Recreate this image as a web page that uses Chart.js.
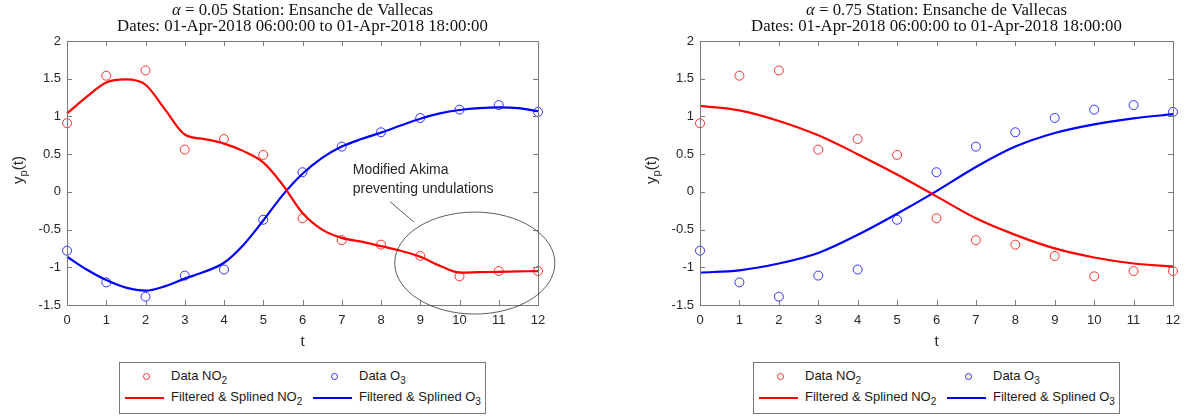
<!DOCTYPE html>
<html lang="en">
<head>
    <meta charset="UTF-8">
    <title>Filtered & splined NO2 / O3</title>
    <script src="https://cdn.jsdelivr.net/npm/chart.js@4.4.1/dist/chart.umd.min.js"></script>
    <style>
        body { margin: 0; background: #fff; width: 1191px; height: 417px; position: relative; overflow: hidden; }
        canvas { position: absolute; top: 0; }
        #leftCanvas { left: 0; }
        #rightCanvas { left: 600px; }
        .legend {
            position: absolute; top: 362px; width: 367px; height: 52px;
            box-sizing: border-box; border: 1px solid #7a7a7a; background: #fff;
            font-family: "Liberation Sans", Arial, sans-serif; font-size: 13px; color: #1a1a1a;
        }
        .legend .item { position: absolute; white-space: nowrap; line-height: 14px; }
        .legend sub { font-size: 10px; vertical-align: -4px; line-height: 0; }
        .legend .mk { position: absolute; width: 7px; height: 7px; border-radius: 50%; box-sizing: border-box; }
        .legend .ln { position: absolute; height: 2px; }
    </style>
</head>
<body>
    <canvas id="leftCanvas" width="600" height="360"></canvas>
    <canvas id="rightCanvas" width="591" height="360"></canvas>

    <div class="legend" style="left:119px"></div>
    <div class="legend" style="left:753px"></div>

    <script>
        // hours since 06:00
        const tData = [0, 1, 2, 3, 4, 5, 6, 7, 8, 9, 10, 11, 12];
        const no2Data = [0.91, 1.54, 1.61, 0.56, 0.70, 0.49, -0.35, -0.64, -0.70, -0.85, -1.12, -1.05, -1.05];
        const o3Data = [-0.78, -1.20, -1.39, -1.11, -1.03, -0.37, 0.26, 0.60, 0.79, 0.98, 1.09, 1.15, 1.06];

        // alpha = 0.05, read every half hour off the curve
        const tFine = [0, 0.5, 1, 1.5, 2, 2.5, 3, 3.5, 4, 4.5, 5, 5.5, 6, 6.5, 7, 7.5, 8, 8.5, 9, 9.5, 10, 10.5, 11, 11.5, 12];
        const no2FitA = [1.04, 1.26, 1.45, 1.49, 1.42, 1.09, 0.76, 0.70, 0.64, 0.54, 0.39, 0.09, -0.28, -0.50, -0.61, -0.66, -0.72, -0.78, -0.86, -0.98, -1.07, -1.065, -1.06, -1.055, -1.05];
        const o3FitA = [-0.86, -1.03, -1.17, -1.27, -1.31, -1.25, -1.15, -1.06, -0.94, -0.70, -0.38, -0.04, 0.24, 0.45, 0.60, 0.70, 0.785, 0.88, 0.97, 1.04, 1.085, 1.11, 1.12, 1.11, 1.07];

        // alpha = 0.75
        const no2FitB = [1.14, 1.08, 0.94, 0.75, 0.50, 0.23, -0.06, -0.35, -0.57, -0.75, -0.87, -0.95, -0.99];
        const o3FitB = [-1.07, -1.04, -0.95, -0.81, -0.57, -0.29, 0.01, 0.33, 0.60, 0.78, 0.895, 0.975, 1.03];

        const yTicks = [-1.5, -1, -0.5, 0, 0.5, 1, 1.5, 2];
        const alphas = ['0.05', '0.75'];
        const station = 'Station: Ensanche de Vallecas';
        const dates = 'Dates: 01-Apr-2018 06:00:00 to 01-Apr-2018 18:00:00';

        const RED = '#ff0000', BLUE = '#0000ff', AXIS = '#262626';
        const sans = '"Liberation Sans", Arial, sans-serif';
        const serif = '"Liberation Serif", "Times New Roman", serif';

        const pts = (xs, ys) => xs.map((x, i) => ({ x: x, y: ys[i] }));

        // box, inward ticks, titles and axis labels (matlab look)
        const axesDecor = {
            id: 'axesDecor',
            afterDraw(chart, args, opts) {
                const { ctx, chartArea: a, scales: { x, y } } = chart;
                ctx.save();
                ctx.strokeStyle = '#7a7a7a';
                ctx.lineWidth = 1;
                ctx.strokeRect(a.left + 0.5, a.top + 0.5, a.right - a.left, a.bottom - a.top);
                ctx.beginPath();
                x.ticks.forEach(t => {
                    const px = Math.round(x.getPixelForValue(t.value)) + 0.5;
                    ctx.moveTo(px, a.bottom); ctx.lineTo(px, a.bottom - 5);
                    ctx.moveTo(px, a.top); ctx.lineTo(px, a.top + 5);
                });
                y.ticks.forEach(t => {
                    const py = Math.round(y.getPixelForValue(t.value)) + 0.5;
                    ctx.moveTo(a.left, py); ctx.lineTo(a.left + 5, py);
                    ctx.moveTo(a.right, py); ctx.lineTo(a.right - 5, py);
                });
                ctx.stroke();

                const cx = (a.left + a.right) / 2;
                // title, line 1 with italic alpha
                ctx.fillStyle = '#111';
                ctx.textBaseline = 'middle';
                ctx.textAlign = 'left';
                const p1 = '\u03b1', p2 = ' = ' + opts.alpha + ' ' + station;
                ctx.font = 'italic 16.8px ' + serif;
                const w1 = ctx.measureText(p1).width;
                ctx.font = '16.8px ' + serif;
                const w2 = ctx.measureText(p2).width;
                let sx = cx - (w1 + w2) / 2;
                ctx.font = 'italic 16.8px ' + serif;
                ctx.fillText(p1, sx, 11);
                ctx.font = '16.8px ' + serif;
                ctx.fillText(p2, sx + w1, 11);
                ctx.textAlign = 'center';
                ctx.fillText(dates, cx, 27);

                // x label
                ctx.fillStyle = AXIS;
                ctx.font = '15px ' + sans;
                ctx.fillText('t', cx, 342);

                // y label y_p(t)
                ctx.save();
                ctx.translate(a.left - 48, (a.top + a.bottom) / 2 - 3);
                ctx.rotate(-Math.PI / 2);
                ctx.font = '15px ' + sans;
                const wy = ctx.measureText('y').width;
                const wt = ctx.measureText('(t)').width;
                ctx.font = '11px ' + sans;
                const wp = ctx.measureText('p').width;
                let lx = -(wy + wp + wt) / 2;
                ctx.textAlign = 'left';
                ctx.font = '15px ' + sans;
                ctx.fillText('y', lx, 0);
                ctx.font = '11px ' + sans;
                ctx.fillText('p', lx + wy, 5);
                ctx.font = '15px ' + sans;
                ctx.fillText('(t)', lx + wy + wp, 0);
                ctx.restore();

                // annotation (left panel only)
                if (opts.note) {
                    const n = opts.note;
                    ctx.strokeStyle = '#333';
                    ctx.lineWidth = 0.8;
                    const ex = x.getPixelForValue(n.cx), ey = y.getPixelForValue(n.cy);
                    const rx = x.getPixelForValue(n.cx + n.rx) - ex;
                    const ry = ey - y.getPixelForValue(n.cy + n.ry);
                    ctx.beginPath();
                    ctx.ellipse(ex, ey, rx, ry, 0, 0, Math.PI * 2);
                    ctx.stroke();
                    ctx.beginPath();
                    ctx.moveTo(x.getPixelForValue(n.l0[0]), y.getPixelForValue(n.l0[1]));
                    ctx.lineTo(x.getPixelForValue(n.l1[0]), y.getPixelForValue(n.l1[1]));
                    ctx.stroke();
                    ctx.fillStyle = AXIS;
                    ctx.font = '14px ' + sans;
                    ctx.textAlign = 'left';
                    ctx.textBaseline = 'alphabetic';
                    ctx.fillText('Modified Akima', x.getPixelForValue(n.tx), y.getPixelForValue(n.ty1));
                    ctx.fillText('preventing undulations', x.getPixelForValue(n.tx), y.getPixelForValue(n.ty2));
                }
                ctx.restore();
            }
        };

        function makeChart(id, alpha, tFit, no2Fit, o3Fit, yWidth, padRight, note) {
            const ctx = document.getElementById(id).getContext('2d');
            return new Chart(ctx, {
                type: 'line',
                data: {
                    datasets: [
                        { label: 'Filtered & Splined NO2', data: pts(tFit, no2Fit), borderColor: RED, borderWidth: 2.2,
                          pointRadius: 0, cubicInterpolationMode: 'monotone', clip: false },
                        { label: 'Filtered & Splined O3', data: pts(tFit, o3Fit), borderColor: BLUE, borderWidth: 2.2,
                          pointRadius: 0, cubicInterpolationMode: 'monotone', clip: false },
                        { label: 'Data NO2', data: pts(tData, no2Data), showLine: false, pointRadius: 4.5,
                          pointBorderWidth: 1, pointBorderColor: 'rgba(255,0,0,0.8)', pointBackgroundColor: 'rgba(0,0,0,0)', clip: false },
                        { label: 'Data O3', data: pts(tData, o3Data), showLine: false, pointRadius: 4.5,
                          pointBorderWidth: 1, pointBorderColor: 'rgba(0,0,255,0.8)', pointBackgroundColor: 'rgba(0,0,0,0)', clip: false }
                    ]
                },
                options: {
                    responsive: false,
                    animation: false,
                    layout: { padding: { top: 41, right: padRight, left: 0, bottom: 0 } },
                    plugins: {
                        legend: { display: false },
                        tooltip: { enabled: false },
                        axesDecor: { alpha: alpha, note: note }
                    },
                    scales: {
                        x: {
                            type: 'linear', min: 0, max: 12,
                            ticks: { stepSize: 1, padding: 8, color: AXIS, font: { family: sans, size: 13 } },
                            grid: { display: false, drawTicks: false },
                            border: { display: false },
                            afterFit: s => { s.height = 55; }
                        },
                        y: {
                            type: 'linear', min: -1.5, max: 2,
                            afterBuildTicks: s => { s.ticks = yTicks.map(v => ({ value: v })); },
                            ticks: { padding: 6, color: AXIS, font: { family: sans, size: 13 },
                                     callback: v => String(v) },
                            grid: { display: false, drawTicks: false },
                            border: { display: false },
                            afterFit: s => { s.width = yWidth; }
                        }
                    }
                },
                plugins: [axesDecor]
            });
        }

        const akimaNote = { cx: 10.39, cy: -0.944, rx: 2.04, ry: 0.676, tx: 7.28, ty1: 0.237, ty2: -0.011,
                            l0: [8.23, -0.13], l1: [8.84, -0.40] };

        makeChart('leftCanvas', alphas[0], tFine, no2FitA, o3FitA, 67, 62, akimaNote);
        makeChart('rightCanvas', alphas[1], tData, no2FitB, o3FitB, 100, 18, null);

        // legends with real subscripts
        const legendItems = [
            { kind: 'mk', color: 'rgba(255,0,0,0.8)', col: 0, row: 0, html: 'Data NO<sub>2</sub>' },
            { kind: 'mk', color: 'rgba(0,0,255,0.8)', col: 1, row: 0, html: 'Data O<sub>3</sub>' },
            { kind: 'ln', color: RED, col: 0, row: 1, html: 'Filtered &amp; Splined NO<sub>2</sub>' },
            { kind: 'ln', color: BLUE, col: 1, row: 1, html: 'Filtered &amp; Splined O<sub>3</sub>' }
        ];
        document.querySelectorAll('.legend').forEach(box => {
            legendItems.forEach(it => {
                const x0 = it.col === 0 ? 0 : 188;
                const cy = it.row === 0 ? 14 : 35;
                const sym = document.createElement('div');
                sym.className = it.kind;
                if (it.kind === 'mk') {
                    sym.style.left = (x0 + 23) + 'px';
                    sym.style.top = (cy - 4) + 'px';
                    sym.style.border = '1px solid ' + it.color;
                } else {
                    sym.style.left = (x0 + 5) + 'px';
                    sym.style.width = '39px';
                    sym.style.top = (cy - 1) + 'px';
                    sym.style.background = it.color;
                }
                box.appendChild(sym);
                const lab = document.createElement('div');
                lab.className = 'item';
                lab.style.left = (x0 + 51) + 'px';
                lab.style.top = (cy - 8) + 'px';
                lab.innerHTML = it.html;
                box.appendChild(lab);
            });
        });
    </script>
</body>
</html>
